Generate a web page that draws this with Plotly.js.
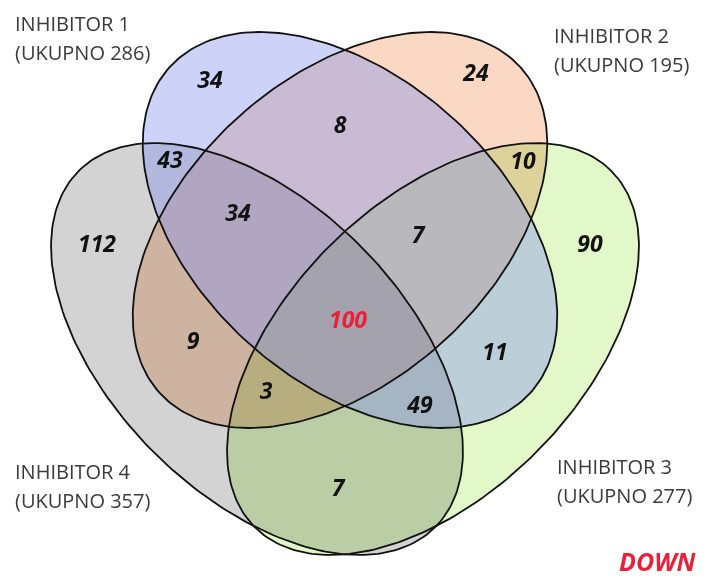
<!DOCTYPE html>
<html>
<head>
<meta charset="utf-8">
<script src="https://cdn.plot.ly/plotly-3.0.1.min.js"></script>
<style>
  html, body { margin: 0; padding: 0; background: #fff; }
  #chart { width: 718px; height: 585px; }
  .scatterlayer .trace:nth-child(1) path.js-fill,
  .scatterlayer .trace:nth-child(2) path.js-fill,
  .scatterlayer .trace:nth-child(3) path.js-fill { mix-blend-mode: multiply; }
</style>
</head>
<body>
<div id="chart"></div>
<script>
// ---- data ----
const setNames = ["INHIBITOR 1", "INHIBITOR 2", "INHIBITOR 3", "INHIBITOR 4"];
const setTotals = [286, 195, 277, 357];
const regionSets = ["1", "2", "1&2", "1&4", "2&3", "1&2&4", "1&2&3", "4", "3",
                    "1&2&3&4", "2&4", "1&3", "2&3&4", "1&3&4", "3&4"];
const regionCounts = [34, 24, 8, 43, 10, 34, 7, 112, 90, 100, 9, 11, 3, 49, 7];
const groupTag = "DOWN";

// ---- layout geometry (pixel-like coordinates) ----
const labelPos = {
  "1": [210, 82], "2": [476, 75], "1&2": [340, 127], "1&4": [170, 162],
  "2&3": [523, 163], "1&2&4": [238, 215], "1&2&3": [418, 237], "4": [97, 246],
  "3": [590, 246], "1&2&3&4": [348, 322], "2&4": [193, 343], "1&3": [495, 354],
  "2&3&4": [266, 393], "1&3&4": [420, 407], "3&4": [338, 490]
};
// ellipse: cx, cy, a, b, angle(deg)
const ellipses = {
  "4": [257, 349, 252, 146, 45],
  "3": [433, 349, 252, 146, -45],
  "2": [340, 230, 243, 152, -42],
  "1": [350, 230, 243, 152, 42]
};
const fills = {
  "4": "rgb(211,211,211)",
  "3": "rgb(226,248,200)",
  "2": "rgb(250,216,195)",
  "1": "rgba(136,148,238,0.42)"
};
const setLabelPos = {
  "1": [13, 23], "2": [552, 35], "3": [555, 466], "4": [13, 471]
};
const lineGap = 29;

function ellipsePts(e) {
  const [cx, cy, a, b, ang] = e;
  const t = ang * Math.PI / 180;
  const xs = [], ys = [];
  for (let i = 0; i <= 240; i++) {
    const p = 2 * Math.PI * i / 240;
    const ex = a * Math.cos(p), ey = b * Math.sin(p);
    xs.push(cx + ex * Math.cos(t) - ey * Math.sin(t));
    ys.push(cy + ex * Math.sin(t) + ey * Math.cos(t));
  }
  return [xs, ys];
}

const order = ["4", "3", "2", "1"];
const traces = [];
order.forEach(k => {
  const [xs, ys] = ellipsePts(ellipses[k]);
  traces.push({ type: "scatter", mode: "lines", x: xs, y: ys, fill: "toself",
    fillcolor: fills[k], line: { width: 0, color: "rgba(0,0,0,0)" },
    hoverinfo: "skip", showlegend: false });
});
order.forEach(k => {
  const [xs, ys] = ellipsePts(ellipses[k]);
  traces.push({ type: "scatter", mode: "lines", x: xs, y: ys,
    line: { width: 1.8, color: "#111" }, hoverinfo: "skip", showlegend: false });
});
traces.push({
  type: "scatter", mode: "text",
  x: regionSets.map(s => labelPos[s][0]),
  y: regionSets.map(s => labelPos[s][1]),
  text: regionCounts.map(String),
  textposition: "middle center",
  textfont: { family: "Open Sans, sans-serif", size: 23, weight: 700, style: "italic",
    color: regionSets.map(s => s === "1&2&3&4" ? "#e8213a" : "#111") },
  hoverinfo: "skip", showlegend: false
});

const annotations = [];
["1", "2", "3", "4"].forEach(k => {
  const i = +k - 1;
  const lines = [setNames[i], "(UKUPNO " + setTotals[i] + ")"];
  lines.forEach((txt, j) => {
    annotations.push({
      x: setLabelPos[k][0], y: setLabelPos[k][1] + j * lineGap, xref: "x", yref: "y",
      text: txt, showarrow: false, xanchor: "left", yanchor: "middle", align: "left",
      font: { family: "Open Sans, sans-serif", size: 20, color: "#3a3a3a" }
    });
  });
});
annotations.push({
  x: 657, y: 561, xref: "x", yref: "y", text: groupTag, showarrow: false,
  xanchor: "center", yanchor: "middle",
  font: { family: "Open Sans, sans-serif", size: 25, weight: 700, style: "italic", color: "#e8213a" }
});

const layout = {
  width: 718, height: 585,
  margin: { l: 0, r: 0, t: 0, b: 0 },
  paper_bgcolor: "#fff", plot_bgcolor: "#fff",
  xaxis: { range: [0, 718], visible: false, fixedrange: true },
  yaxis: { range: [585, 0], visible: false, fixedrange: true },
  annotations: annotations,
  showlegend: false
};
Plotly.newPlot("chart", traces, layout, { staticPlot: true, displayModeBar: false });
</script>
</body>
</html>
